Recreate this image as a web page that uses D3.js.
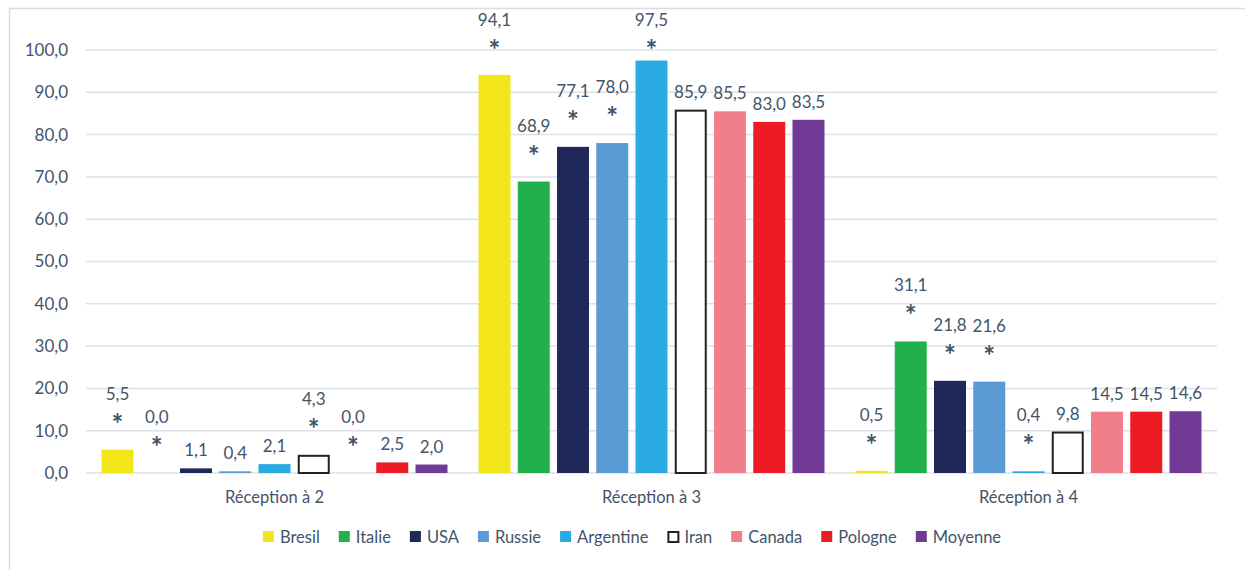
<!DOCTYPE html>
<html>
<head>
<meta charset="utf-8">
<script src="https://cdn.jsdelivr.net/npm/d3@7"></script>
<style>
  html, body { margin: 0; padding: 0; background: #ffffff; }
  svg { display: block; }
  text { font-family: Lato, "Open Sans", sans-serif; fill: #44546a; }
</style>
</head>
<body>
<svg id="chart" width="1245" height="570"></svg>
<script>
// ---- data ----
const categories = ["Réception à 2", "Réception à 3", "Réception à 4"];
const seriesNames = ["Bresil", "Italie", "USA", "Russie", "Argentine", "Iran", "Canada", "Pologne", "Moyenne"];
const bresil    = [5.5, 94.1, 0.5];
const italie    = [0.0, 68.9, 31.1];
const usa       = [1.1, 77.1, 21.8];
const russie    = [0.4, 78.0, 21.6];
const argentine = [2.1, 97.5, 0.4];
const iran      = [4.3, 85.9, 9.8];
const canada    = [0.0, 85.5, 14.5];
const pologne   = [2.5, 83.0, 14.5];
const moyenne   = [2.0, 83.5, 14.6];
// significance markers (*) per series, per category
const sigBresil    = [true, true, true];
const sigItalie    = [true, true, true];
const sigUsa       = [false, true, true];
const sigRussie    = [false, true, true];
const sigArgentine = [false, true, true];
const sigIran      = [true, false, false];
const sigCanada    = [true, false, false];
const sigPologne   = [false, false, false];
const sigMoyenne   = [false, false, false];
const yTicks = [0, 10, 20, 30, 40, 50, 60, 70, 80, 90, 100];
const colors = ["#f2e61b", "#21b04b", "#1f2858", "#5b9bd5", "#29abe2", "#ffffff", "#f07f8a", "#ed1c24", "#713a94"];

const values = [bresil, italie, usa, russie, argentine, iran, canada, pologne, moyenne];
const sigs = [sigBresil, sigItalie, sigUsa, sigRussie, sigArgentine, sigIran, sigCanada, sigPologne, sigMoyenne];

// ---- layout ----
const svg = d3.select("#chart");
const plot = { left: 86, right: 1217, top: 50, bottom: 473 };
const fmt = v => v.toFixed(1).replace(".", ",");
const numSize = 17, catSize = 16.5;

// frame
svg.append("rect")
  .attr("x", 9.5).attr("y", 8.5).attr("width", 1300).attr("height", 700)
  .attr("fill", "none").attr("stroke", "#d9dde3").attr("stroke-width", 1.5);

const y = d3.scaleLinear().domain([0, 100]).range([plot.bottom, plot.top]);
const x0 = d3.scaleBand().domain(categories).range([plot.left, plot.right]).padding(0);
const x1 = d3.scaleBand().domain(seriesNames).range([0, x0.bandwidth()])
  .paddingInner(0.185).paddingOuter(0.395);

// gridlines
svg.append("g").selectAll("line").data(yTicks).join("line")
  .attr("x1", plot.left).attr("x2", plot.right)
  .attr("y1", d => y(d)).attr("y2", d => y(d))
  .attr("stroke", "#dde1e7").attr("stroke-width", 1.5);

// y axis labels
const yAxis = d3.axisLeft(y).tickValues(yTicks).tickFormat(fmt).tickSize(0).tickPadding(0);
const yg = svg.append("g").attr("transform", `translate(${68},0)`).call(yAxis);
yg.select(".domain").remove();
yg.selectAll("text").attr("font-size", numSize).attr("fill", "#44546a")
  .style("font-family", "Lato, 'Open Sans', sans-serif");

// category labels
const xAxis = d3.axisBottom(x0).tickSize(0).tickPadding(0);
const xg = svg.append("g").attr("transform", `translate(0,${491})`).call(xAxis);
xg.select(".domain").remove();
xg.selectAll("text").attr("font-size", catSize).attr("fill", "#44546a").attr("dy", "0.75em")
  .style("font-family", "Lato, 'Open Sans', sans-serif");

// bars
const groups = svg.append("g").selectAll("g").data(categories).join("g")
  .attr("transform", c => `translate(${x0(c)},0)`);

groups.each(function(c, ci) {
  const g = d3.select(this);
  seriesNames.forEach((s, si) => {
    const v = values[si][ci];
    const isIran = s === "Iran";
    const bx = x1(s), bw = x1.bandwidth();
    const top = y(v);
    if (v > 0) {
      g.append("rect")
        .attr("x", isIran ? bx + 1 : bx)
        .attr("y", isIran ? top + 1 : top)
        .attr("width", isIran ? bw - 2 : bw)
        .attr("height", isIran ? Math.max(0, y(0) - top - 1) : y(0) - top)
        .attr("fill", colors[si])
        .attr("stroke", isIran ? "#222222" : "none")
        .attr("stroke-width", isIran ? 2 : 0);
    }
    const cx = bx + bw / 2;
    if (sigs[si][ci]) {
      const numBase = Math.max(26, top - 50);
      g.append("text").attr("x", cx).attr("y", numBase + 34)
        .attr("text-anchor", "middle").attr("font-size", 28).attr("font-weight", "bold")
        .attr("fill", "#44546a").text("*");
      g.append("text").attr("x", cx).attr("y", numBase)
        .attr("text-anchor", "middle").attr("font-size", numSize)
        .attr("fill", "#44546a").text(fmt(v));
    } else {
      g.append("text").attr("x", cx).attr("y", top - 12)
        .attr("text-anchor", "middle").attr("font-size", numSize)
        .attr("fill", "#44546a").text(fmt(v));
    }
  });
});

// legend (laid out from measured text widths, centred)
const lg = svg.append("g");
const items = seriesNames.map((s, i) => {
  const t = lg.append("text").attr("y", 543).attr("font-size", catSize)
    .attr("fill", "#44546a").text(s);
  return { s, i, t, w: t.node().getComputedTextLength() };
});
const sq = 11, sqGap = 6, itemGap = 19;
const total = d3.sum(items, d => sq + sqGap + d.w) + itemGap * (items.length - 1);
let lx = 632 - total / 2;
items.forEach(d => {
  const isIran = d.s === "Iran";
  lg.append("rect")
    .attr("x", isIran ? lx + 1 : lx).attr("y", isIran ? 532 : 531)
    .attr("width", isIran ? 10 : sq).attr("height", isIran ? 10 : sq)
    .attr("fill", colors[d.i])
    .attr("stroke", isIran ? "#222222" : "none").attr("stroke-width", isIran ? 2 : 0);
  d.t.attr("x", lx + sq + sqGap);
  lx += sq + sqGap + d.w + itemGap;
});
</script>
</body>
</html>
